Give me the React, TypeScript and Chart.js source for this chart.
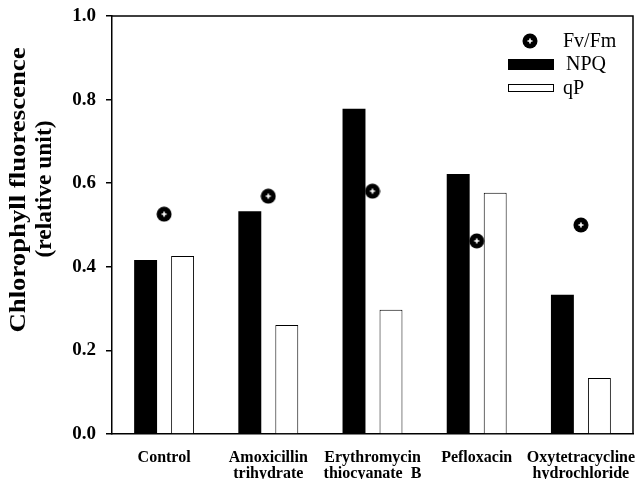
import React, { useEffect, useRef } from "react";
import { Chart, registerables } from "chart.js";

Chart.register(...registerables);

const categories: (string | string[])[] = [
  "Control",
  ["Amoxicillin", "trihydrate"],
  ["Erythromycin", "thiocyanate  B"],
  "Pefloxacin",
  ["Oxytetracycline", "hydrochloride"],
];
const npqValues = [0.416, 0.533, 0.778, 0.622, 0.333];
const qpValues = [0.426, 0.261, 0.297, 0.577, 0.134];
const fvfmValues = [0.526, 0.569, 0.581, 0.462, 0.5];
const yTicks = [0, 0.2, 0.4, 0.6, 0.8, 1.0];
const yTitleLines = ["Chlorophyll fluorescence", "(relative unit)"];

const SERIF = "'Liberation Serif', 'Times New Roman', serif";

function makeMarker(): HTMLCanvasElement {
  const c = document.createElement("canvas");
  c.width = 16;
  c.height = 16;
  const g = c.getContext("2d")!;
  g.fillStyle = "#000";
  g.beginPath();
  g.arc(8, 8, 7.5, 0, Math.PI * 2);
  g.fill();
  g.strokeStyle = "#fff";
  g.lineWidth = 1.6;
  g.beginPath();
  g.moveTo(5.5, 8);
  g.lineTo(10.5, 8);
  g.moveTo(8, 5.5);
  g.lineTo(8, 10.5);
  g.stroke();
  return c;
}

export default function App() {
  const ref = useRef<HTMLCanvasElement | null>(null);

  useEffect(() => {
    if (!ref.current) return;
    const marker = makeMarker();

    const framePlugin = {
      id: "frameAndExtras",
      afterDraw(chart: any) {
        const { ctx, chartArea } = chart;
        ctx.save();
        // frame top & right
        ctx.strokeStyle = "#000";
        ctx.lineWidth = 1.5;
        ctx.beginPath();
        ctx.moveTo(chartArea.left, chartArea.top);
        ctx.lineTo(chartArea.right, chartArea.top);
        ctx.lineTo(chartArea.right, chartArea.bottom);
        ctx.stroke();

        // y title
        ctx.fillStyle = "#000";
        ctx.font = `bold 23px ${SERIF}`;
        ctx.textAlign = "center";
        ctx.textBaseline = "middle";
        const xs = [19, 45];
        const ys = [190, 189];
        const lengths = [285, 137];
        yTitleLines.forEach((line, i) => {
          const w = ctx.measureText(line).width;
          ctx.save();
          ctx.translate(xs[i], ys[i]);
          ctx.rotate(-Math.PI / 2);
          ctx.scale(lengths[i] / w, 1);
          ctx.fillText(line, 0, 0);
          ctx.restore();
        });

        // legend
        const ds = chart.data.datasets;
        ctx.font = `20px ${SERIF}`;
        ctx.textAlign = "left";
        ctx.textBaseline = "middle";
        // Fv/Fm
        ctx.drawImage(marker, 530 - 8, 41 - 8);
        ctx.fillText(ds[2].label, 563, 42);
        // NPQ
        ctx.fillStyle = ds[0].backgroundColor;
        ctx.fillRect(508, 59, 46, 11);
        ctx.fillStyle = "#000";
        ctx.fillText(ds[0].label, 566, 65);
        // qP
        ctx.fillStyle = ds[1].backgroundColor;
        ctx.fillRect(508.5, 84.5, 45, 7);
        ctx.strokeStyle = "#000";
        ctx.lineWidth = 1;
        ctx.strokeRect(508.5, 84.5, 45, 7);
        ctx.fillStyle = "#000";
        ctx.fillText(ds[1].label, 563, 89);
        ctx.restore();
      },
    };

    const chart = new Chart(ref.current, {
      type: "bar",
      data: {
        labels: categories,
        datasets: [
          {
            type: "bar",
            label: "NPQ",
            data: npqValues,
            backgroundColor: "#000",
            borderColor: "#000",
            borderWidth: 0,
            categoryPercentage: 0.71,
            barPercentage: 0.62,
            order: 2,
          },
          {
            type: "bar",
            label: "qP",
            data: qpValues,
            backgroundColor: "#fff",
            borderColor: "#000",
            borderWidth: 1,
            categoryPercentage: 0.71,
            barPercentage: 0.62,
            order: 2,
          },
          {
            type: "line",
            label: "Fv/Fm",
            data: fvfmValues,
            showLine: false,
            pointStyle: marker as any,
            pointRadius: 8,
            order: 0,
          } as any,
        ],
      },
      options: {
        responsive: false,
        animation: false,
        layout: { autoPadding: false, padding: { top: 16, right: 4, left: 0, bottom: 0 } },
        plugins: {
          legend: { display: false },
          tooltip: { enabled: false },
        },
        scales: {
          x: {
            type: "category",
            offset: true,
            grid: { display: false, drawTicks: false },
            border: { display: true, color: "#000", width: 1.5 },
            ticks: {
              color: "#000",
              font: { family: SERIF, size: 16, weight: "bold", lineHeight: 1.05 },
              padding: 15,
              autoSkip: false,
              maxRotation: 0,
              minRotation: 0,
            },
            afterFit(axis: any) {
              axis.height = 45;
              axis.paddingLeft = 0;
              axis.paddingRight = 0;
            },
          },
          y: {
            min: 0,
            max: 1,
            afterBuildTicks(axis: any) {
              axis.ticks = yTicks.map((v) => ({ value: v }));
            },
            grid: {
              drawOnChartArea: false,
              drawTicks: true,
              tickLength: 6,
              color: "#000",
              lineWidth: 1.5,
            },
            border: { display: true, color: "#000", width: 1.5 },
            ticks: {
              color: "#000",
              font: { family: SERIF, size: 19, weight: "bold" },
              padding: 10,
              callback: (v: any) => Number(v).toFixed(1),
            },
            afterFit(axis: any) {
              axis.width = 112;
              axis.paddingTop = 0;
              axis.paddingBottom = 0;
            },
          },
        },
      },
      plugins: [framePlugin],
    });
    return () => chart.destroy();
  }, []);

  return (
    <div style={{ position: "fixed", left: 0, top: 0, width: 637, height: 479, background: "#fff" }}>
      <canvas ref={ref} width={637} height={479} style={{ display: "block" }} />
    </div>
  );
}
